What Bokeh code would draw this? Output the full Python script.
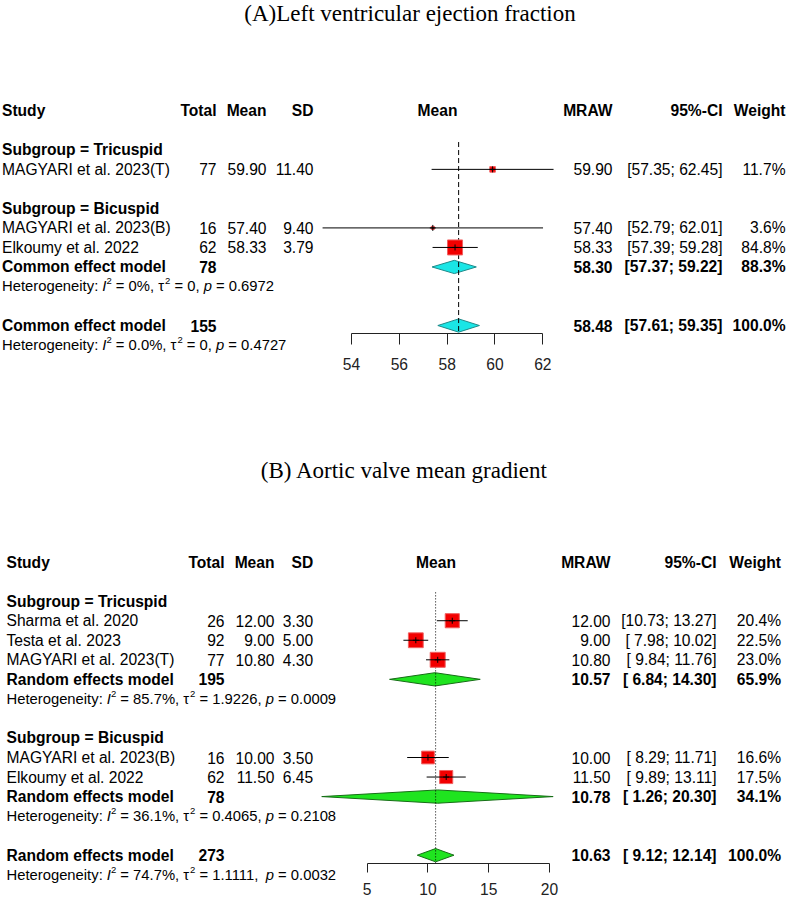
import math
from bokeh.plotting import figure
from bokeh.models import ColumnDataSource, LabelSet, Range1d, LinearAxis, FixedTicker
from bokeh.layouts import column
from bokeh.core.properties import value
from bokeh.embed import file_html
from bokeh.resources import INLINE

# ---------------- data: (A) left ventricular ejection fraction ----------------
A_TITLE = "(A)Left ventricular ejection fraction"
A_MODEL = "Common effect model"
A_GROUP_ORDER = ["Tricuspid", "Bicuspid"]
A_STUDIES = ["MAGYARI et al. 2023(T)", "MAGYARI et al. 2023(B)", "Elkoumy et al. 2022"]
A_GROUP = ["Tricuspid", "Bicuspid", "Bicuspid"]
A_TOTAL = [77, 16, 62]
A_MEAN = [59.90, 57.40, 58.33]
A_SD = [11.40, 9.40, 3.79]
A_LOW = [57.35, 52.79, 57.39]
A_HIGH = [62.45, 62.01, 59.28]
A_WEIGHT = [11.7, 3.6, 84.8]
A_SUB_GROUP = ["Bicuspid"]
A_SUB_TOTAL = [78]
A_SUB_EST = [58.30]
A_SUB_LOW = [57.37]
A_SUB_HIGH = [59.22]
A_SUB_WEIGHT = [88.3]
A_SUB_HET = [("0%", "0", "0.6972")]
A_ALL_TOTAL = 155
A_ALL_EST = 58.48
A_ALL_LOW = 57.61
A_ALL_HIGH = 59.35
A_ALL_WEIGHT = 100.0
A_ALL_HET = ("0.0%", "0", "0.4727")
A_TICKS = [54, 56, 58, 60, 62]

# ---------------- data: (B) aortic valve mean gradient ----------------
B_TITLE = "(B) Aortic valve mean gradient"
B_MODEL = "Random effects model"
B_GROUP_ORDER = ["Tricuspid", "Bicuspid"]
B_STUDIES = ["Sharma et al. 2020", "Testa et al. 2023", "MAGYARI et al. 2023(T)",
             "MAGYARI et al. 2023(B)", "Elkoumy et al. 2022"]
B_GROUP = ["Tricuspid", "Tricuspid", "Tricuspid", "Bicuspid", "Bicuspid"]
B_TOTAL = [26, 92, 77, 16, 62]
B_MEAN = [12.00, 9.00, 10.80, 10.00, 11.50]
B_SD = [3.30, 5.00, 4.30, 3.50, 6.45]
B_LOW = [10.73, 7.98, 9.84, 8.29, 9.89]
B_HIGH = [13.27, 10.02, 11.76, 11.71, 13.11]
B_WEIGHT = [20.4, 22.5, 23.0, 16.6, 17.5]
B_SUB_GROUP = ["Tricuspid", "Bicuspid"]
B_SUB_TOTAL = [195, 78]
B_SUB_EST = [10.57, 10.78]
B_SUB_LOW = [6.84, 1.26]
B_SUB_HIGH = [14.30, 20.30]
B_SUB_WEIGHT = [65.9, 34.1]
B_SUB_HET = [("85.7%", "1.9226", "0.0009"), ("36.1%", "0.4065", "0.2108")]
B_ALL_TOTAL = 273
B_ALL_EST = 10.63
B_ALL_LOW = 9.12
B_ALL_HIGH = 12.14
B_ALL_WEIGHT = 100.0
B_ALL_HET = ("74.7%", "1.1111", "0.0032")
B_TICKS = [5, 10, 15, 20]

# ---------------- styling / layout ----------------
WIDTH = 787
FONT = "Liberation Sans"
SERIF = "Liberation Serif"
FS_MAIN = 15.6
HET_FS = 14.8
SUP_FS = 9.5
SUP_RAISE = 5
TITLE_FS = 23
SQ_MAX = 15
DIAMOND_H = 0.34

W_EM = {' ': 0.278, '%': 0.889, ',': 0.278, '.': 0.278, ':': 0.278, '=': 0.584,
        'H': 0.722, 'e': 0.556, 't': 0.278, 'r': 0.333, 'o': 0.556, 'g': 0.556,
        'n': 0.556, 'i': 0.222, 'y': 0.5, 'I': 0.278, 'p': 0.556, 'τ': 0.46}


def text_width(s, size):
    return sum(W_EM.get(ch, 0.556) for ch in s) * size


LAYOUT_A = dict(height=378, frame_top_page=0, row0=110.3, step=19.52, axis_page=333.0,
                px_lo=351.0, px_hi=542.3, tick_out=11, standoff=13,
                cols=dict(study=1.5, total=216, mean=266, sd=313, plot=437,
                          mraw=612, ci=722, weight=785),
                title_x=409.5, title_y=13, ref_start=1.6, ref_dash="5 3",
                d_fill="#1AE6E6", d_line="#1E8A8A")
LAYOUT_B = dict(height=521, frame_top_page=378, row0=561.6, step=19.54, axis_page=862.7,
                px_lo=366.7, px_hi=549.0, tick_out=9, standoff=11,
                cols=dict(study=6, total=224, mean=274, sd=312.7, plot=435.5,
                          mraw=610, ci=716, weight=780.5),
                title_x=404, title_y=470, ref_start=1.55, ref_dash="1 2",
                d_fill="#1FE41F", d_line="#166E16")

DATA_A = dict(title=A_TITLE, model=A_MODEL, group_order=A_GROUP_ORDER, studies=A_STUDIES,
              group=A_GROUP, total=A_TOTAL, mean=A_MEAN, sd=A_SD, low=A_LOW, high=A_HIGH,
              weight=A_WEIGHT, sub_group=A_SUB_GROUP, sub_total=A_SUB_TOTAL, sub_est=A_SUB_EST,
              sub_low=A_SUB_LOW, sub_high=A_SUB_HIGH, sub_weight=A_SUB_WEIGHT, sub_het=A_SUB_HET,
              all_total=A_ALL_TOTAL, all_est=A_ALL_EST, all_low=A_ALL_LOW, all_high=A_ALL_HIGH,
              all_weight=A_ALL_WEIGHT, all_het=A_ALL_HET, ticks=A_TICKS)
DATA_B = dict(title=B_TITLE, model=B_MODEL, group_order=B_GROUP_ORDER, studies=B_STUDIES,
              group=B_GROUP, total=B_TOTAL, mean=B_MEAN, sd=B_SD, low=B_LOW, high=B_HIGH,
              weight=B_WEIGHT, sub_group=B_SUB_GROUP, sub_total=B_SUB_TOTAL, sub_est=B_SUB_EST,
              sub_low=B_SUB_LOW, sub_high=B_SUB_HIGH, sub_weight=B_SUB_WEIGHT, sub_het=B_SUB_HET,
              all_total=B_ALL_TOTAL, all_est=B_ALL_EST, all_low=B_ALL_LOW, all_high=B_ALL_HIGH,
              all_weight=B_ALL_WEIGHT, all_het=B_ALL_HET, ticks=B_TICKS)


def ci_str(lo, hi):
    return "[{:5.2f}; {:5.2f}]".format(lo, hi)


def make_panel(d, L):
    t0, t1 = d["ticks"][0], d["ticks"][-1]
    k = (L["px_hi"] - L["px_lo"]) / (t1 - t0)
    x_start = t0 - L["px_lo"] / k
    x_end = x_start + WIDTH / k

    def to_row(y_page):
        return (y_page - L["row0"]) / L["step"]

    y_bottom = to_row(L["frame_top_page"] + L["height"])
    y_top = to_row(L["frame_top_page"])
    axis_row = to_row(L["axis_page"])

    p = figure(width=WIDTH, height=L["height"], x_range=Range1d(x_start, x_end),
               y_range=Range1d(y_bottom, y_top), output_backend="svg", toolbar_location=None,
               tools="", x_axis_location=None, y_axis_location=None,
               min_border_left=0, min_border_right=0, min_border_top=0,
               min_border_bottom=0, outline_line_color=None,
               background_fill_color="white", border_fill_color="white")
    p.grid.visible = False

    # row structure
    study_rows = [None] * len(d["studies"])
    sub_rows = [None] * len(d["sub_group"])
    head_rows = []
    r = 2
    for g in d["group_order"]:
        head_rows.append((g, r))
        r += 1
        for i, gg in enumerate(d["group"]):
            if gg == g:
                study_rows[i] = r
                r += 1
        if g in d["sub_group"]:
            j = d["sub_group"].index(g)
            sub_rows[j] = r
            r += 2
        r += 1
    all_row = r

    c = L["cols"]
    T = {}

    def put(x, y, s, align="left", style="normal", size=FS_MAIN, font=FONT, yoff=0):
        key = (align, style, size, font, yoff)
        T.setdefault(key, ([], [], []))
        T[key][0].append(x)
        T[key][1].append(y)
        T[key][2].append(s)

    def het(x, row, h):
        i2, tau2, pv = h
        pieces = [("Heterogeneity: ", "normal", HET_FS, 0), ("I", "italic", HET_FS, 0),
                  ("2", "normal", SUP_FS, SUP_RAISE), (" = %s, " % i2, "normal", HET_FS, 0),
                  ("τ", "normal", HET_FS, 0), ("2", "normal", SUP_FS, SUP_RAISE),
                  (" = %s, " % tau2, "normal", HET_FS, 0), ("p", "italic", HET_FS, 0),
                  (" = %s" % pv, "normal", HET_FS, 0)]
        cur = x
        for s, st, fs, yo in pieces:
            lead = len(s) - len(s.lstrip(" "))
            put(cur + text_width(" " * lead, fs), row, s.strip(), "left", st, fs, FONT, yo)
            cur += text_width(s, fs)

    # title
    put(L["title_x"], to_row(L["title_y"]), d["title"], "center", "normal", TITLE_FS, SERIF)
    # header
    put(c["study"], 0, "Study", "left", "bold")
    put(c["total"], 0, "Total", "right", "bold")
    put(c["mean"], 0, "Mean", "right", "bold")
    put(c["sd"], 0, "SD", "right", "bold")
    put(c["plot"], 0, "Mean", "center", "bold")
    put(c["mraw"], 0, "MRAW", "right", "bold")
    put(c["ci"], 0, "95%-CI", "right", "bold")
    put(c["weight"], 0, "Weight", "right", "bold")
    for g, hr in head_rows:
        put(c["study"], hr, "Subgroup = " + g, "left", "bold")
    for i, s in enumerate(d["studies"]):
        rr = study_rows[i]
        put(c["study"], rr, s)
        put(c["total"], rr, str(d["total"][i]), "right")
        put(c["mean"], rr, "%.2f" % d["mean"][i], "right")
        put(c["sd"], rr, "%.2f" % d["sd"][i], "right")
        put(c["mraw"], rr, "%.2f" % d["mean"][i], "right")
        put(c["ci"], rr, ci_str(d["low"][i], d["high"][i]), "right")
        put(c["weight"], rr, "%.1f%%" % d["weight"][i], "right")
    for j, g in enumerate(d["sub_group"]):
        rr = sub_rows[j]
        put(c["study"], rr, d["model"], "left", "bold")
        put(c["total"], rr, str(d["sub_total"][j]), "right", "bold")
        put(c["mraw"], rr, "%.2f" % d["sub_est"][j], "right", "bold")
        put(c["ci"], rr, ci_str(d["sub_low"][j], d["sub_high"][j]), "right", "bold")
        put(c["weight"], rr, "%.1f%%" % d["sub_weight"][j], "right", "bold")
        het(c["study"], rr + 1, d["sub_het"][j])
    put(c["study"], all_row, d["model"], "left", "bold")
    put(c["total"], all_row, str(d["all_total"]), "right", "bold")
    put(c["mraw"], all_row, "%.2f" % d["all_est"], "right", "bold")
    put(c["ci"], all_row, ci_str(d["all_low"], d["all_high"]), "right", "bold")
    put(c["weight"], all_row, "%.1f%%" % d["all_weight"], "right", "bold")
    het(c["study"], all_row + 1, d["all_het"])

    # diamonds
    d_est = list(d["sub_est"]) + [d["all_est"]]
    d_lo = list(d["sub_low"]) + [d["all_low"]]
    d_hi = list(d["sub_high"]) + [d["all_high"]]
    d_row = list(sub_rows) + [all_row]
    xs = [[lo, e, hi, e] for lo, e, hi in zip(d_lo, d_est, d_hi)]
    ys = [[rr, rr - DIAMOND_H, rr, rr + DIAMOND_H] for rr in d_row]
    p.patches(xs=xs, ys=ys, fill_color=L["d_fill"], line_color=L["d_line"], line_width=1)

    # reference line at the overall estimate
    p.segment(x0=[d["all_est"]], y0=[L["ref_start"]], x1=[d["all_est"]], y1=[axis_row],
              line_color="black", line_width=1, line_dash=L["ref_dash"])

    # study squares and CIs
    wmax = max(d["weight"])
    sizes = [SQ_MAX * math.sqrt(w / wmax) for w in d["weight"]]
    src = ColumnDataSource(dict(x=d["mean"], y=study_rows, lo=d["low"], hi=d["high"], s=sizes))
    p.scatter(x="x", y="y", size="s", marker="square", source=src,
              fill_color="#F20000", line_color="#F06060", line_width=1)
    p.segment(x0="lo", y0="y", x1="hi", y1="y", source=src, line_color="black", line_width=1)
    p.scatter(x="x", y="y", size=6, marker="cross", source=src, line_color="black", line_width=1)

    # x axis, drawn at a fixed row inside the frame
    ax = LinearAxis(ticker=FixedTicker(ticks=d["ticks"], minor_ticks=[]), bounds=(t0, t1),
                    fixed_location=axis_row,
                    major_tick_in=0, major_tick_out=L["tick_out"], minor_tick_in=0,
                    minor_tick_out=0, major_label_standoff=L["standoff"],
                    axis_line_color="#222222", major_tick_line_color="#222222",
                    major_label_text_color="#222222", major_label_text_font=FONT,
                    major_label_text_font_size="%spx" % FS_MAIN)
    p.add_layout(ax, "below")

    # texts
    for (align, style, size, font, yoff), (tx, ty, tt) in T.items():
        s = ColumnDataSource(dict(x=tx, y=ty, text=tt))
        p.add_layout(LabelSet(x="x", y="y", text="text", source=s, x_units="screen",
                              y_units="data", text_align=align, text_baseline="middle",
                              text_font=value(font), text_font_size=value("%spx" % size),
                              text_font_style=value(style), text_color="black",
                              y_offset=yoff))
    return p


pa = make_panel(DATA_A, LAYOUT_A)
pb = make_panel(DATA_B, LAYOUT_B)
layout = column(pa, pb, spacing=0)
open("out.html", "w").write(file_html(layout, INLINE, title="Forest plots"))
